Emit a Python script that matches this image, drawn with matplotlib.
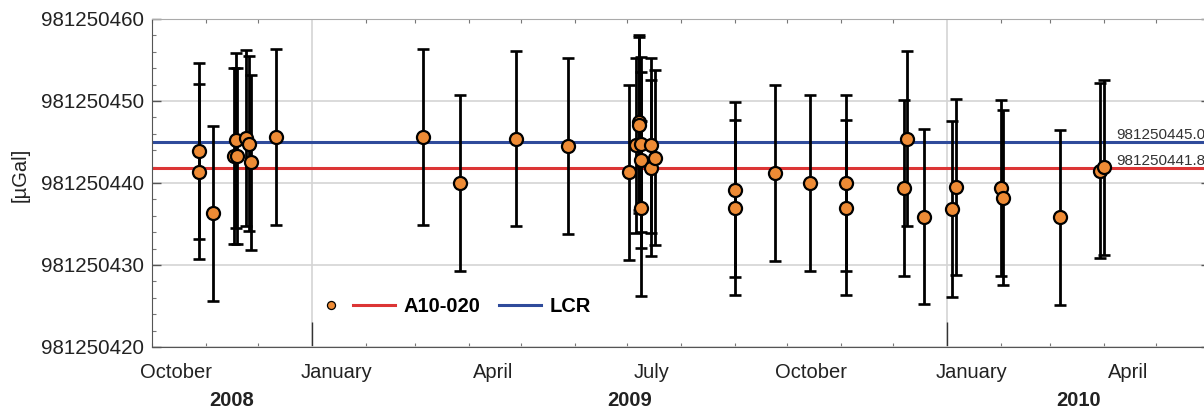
import datetime as dt

import matplotlib
matplotlib.use('Agg')
import matplotlib.pyplot as plt
import matplotlib.dates as mdates
from matplotlib.ticker import MultipleLocator, FormatStrFormatter, NullFormatter
from matplotlib.lines import Line2D

plt.rcParams['font.family'] = ['Liberation Sans', 'DejaVu Sans']

# Absolute gravity measurements (A10-020) with error bars
dates = ['2008-10-28', '2008-10-28', '2008-11-05', '2008-11-17', '2008-11-18',
         '2008-11-19', '2008-11-24', '2008-11-26', '2008-11-27', '2008-12-11',
         '2009-03-06', '2009-03-27', '2009-04-28', '2009-05-28', '2009-07-02',
         '2009-07-06', '2009-07-08', '2009-07-08', '2009-07-09', '2009-07-09',
         '2009-07-09', '2009-07-15', '2009-07-15', '2009-07-17', '2009-09-01',
         '2009-09-01', '2009-09-24', '2009-10-14', '2009-11-04', '2009-11-04',
         '2009-12-07', '2009-12-09', '2009-12-19', '2010-01-04', '2010-01-06',
         '2010-02-01', '2010-02-02', '2010-03-07', '2010-03-30', '2010-04-01']
gravity = [981250443.9, 981250441.4, 981250436.3, 981250443.3, 981250445.2,
           981250443.3, 981250445.5, 981250444.8, 981250442.5, 981250445.6,
           981250445.6, 981250440.0, 981250445.4, 981250444.5, 981250441.3,
           981250444.6, 981250447.4, 981250447.1, 981250444.7, 981250442.8,
           981250436.9, 981250444.6, 981250441.8, 981250443.1, 981250439.2,
           981250437.0, 981250441.2, 981250440.0, 981250440.0, 981250437.0,
           981250439.4, 981250445.4, 981250435.9, 981250436.8, 981250439.5,
           981250439.4, 981250438.2, 981250435.8, 981250441.5, 981250441.9]
errors = [10.7, 10.7, 10.7, 10.7, 10.7, 10.7, 10.7, 10.7, 10.7, 10.7,
          10.7, 10.7, 10.7, 10.7, 10.7, 10.7, 10.7, 10.7, 10.7, 10.7,
          10.7, 10.7, 10.7, 10.7, 10.7, 10.7, 10.7, 10.7, 10.7, 10.7,
          10.7, 10.7, 10.7, 10.7, 10.7, 10.7, 10.7, 10.7, 10.7, 10.7]

a10_value = 981250441.8
lcr_value = 981250445.0

month_labels = ['October', 'January', 'April', 'July', 'October', 'January', 'April']
month_label_dates = ['2008-10-15', '2009-01-15', '2009-04-15', '2009-07-15',
                     '2009-10-15', '2010-01-15', '2010-04-15']
year_labels = ['2008', '2009', '2010']

x_start = dt.datetime(2008, 10, 1)
x_end = dt.datetime(2010, 6, 1)

orange = '#EE8B35'
red = '#DC3535'
blue = '#2F4B9B'
text_col = '#222222'

x = [dt.datetime.strptime(d, '%Y-%m-%d') for d in dates]

fig = plt.figure(figsize=(12.04, 4.09), dpi=100)
ax = fig.add_axes([152 / 1204, 62 / 409, 1057.7 / 1204, 328 / 409])

red_line = ax.axhline(a10_value, color=red, lw=2.2, zorder=1.5)
blue_line = ax.axhline(lcr_value, color=blue, lw=2.2, zorder=1.5)

ax.errorbar(x, gravity, yerr=errors, fmt='none', ecolor='black',
            elinewidth=2.0, capsize=4.5, capthick=1.9, zorder=3)
ax.plot(x, gravity, 'o', ms=9.4, mfc=orange, mec='black', mew=1.6, zorder=4)

ax.set_xlim(x_start, x_end)
ax.set_ylim(981250420, 981250460)

# axes styling (matlab-ish)
ax.set_axisbelow(True)
ax.yaxis.set_major_locator(MultipleLocator(10))
ax.yaxis.set_minor_locator(MultipleLocator(2))
ax.yaxis.set_major_formatter(FormatStrFormatter('%d'))
ax.xaxis.set_major_locator(mdates.YearLocator())
ax.xaxis.set_minor_locator(mdates.MonthLocator())
ax.xaxis.set_major_formatter(NullFormatter())
ax.xaxis.set_minor_formatter(NullFormatter())

ax.grid(True, which='major', color='#d4d4d4', lw=1.2)

ax.tick_params(axis='y', which='major', direction='in', length=6.5, width=1,
               left=True, right=True, labelsize=14.8, labelcolor=text_col,
               color='#555555', pad=5.5)
ax.tick_params(axis='y', which='minor', direction='in', length=3, width=0.8,
               left=True, right=True, color='#777777')
ax.tick_params(axis='x', which='major', direction='in', length=18, width=1,
               bottom=True, top=False, color='#333333')
ax.tick_params(axis='x', which='minor', direction='in', length=3, width=0.8,
               bottom=True, top=True, color='#777777')

for side in ['left', 'bottom']:
    ax.spines[side].set_color('#555555')
ax.spines['top'].set_color('#aaaaaa')
ax.spines['right'].set_color('#aaaaaa')

fig.text(20 / 1204, 1 - 175 / 409, '[µGal]', rotation=90, ha='center',
         va='center', fontsize=14.5, color=text_col)

# month names centred on the month, years centred on the visible span
for lbl, d in zip(month_labels, month_label_dates):
    ax.annotate(lbl, xy=(dt.datetime.strptime(d, '%Y-%m-%d'), 0),
                xycoords=('data', 'axes fraction'), xytext=(0, -11.3),
                textcoords='offset points', ha='center', va='top',
                fontsize=14.5, color=text_col, annotation_clip=False)

for yl in year_labels:
    y0 = max(dt.datetime(int(yl), 1, 1), x_start)
    y1 = min(dt.datetime(int(yl) + 1, 1, 1), x_end)
    mid = y0 + (y1 - y0) / 2
    ax.annotate(yl, xy=(mid, 0), xycoords=('data', 'axes fraction'),
                xytext=(0, -31.6), textcoords='offset points', ha='center',
                va='top', fontsize=14.5, fontweight='bold', color=text_col,
                annotation_clip=False)

# value labels at right end of reference lines
for val in [lcr_value, a10_value]:
    ax.annotate(f'{val:.1f}', xy=(dt.datetime(2010, 4, 8), val),
                xytext=(0, 2.2), textcoords='offset points', ha='left',
                va='baseline', fontsize=11, color='#333333',
                annotation_clip=False)

# legend: marker entry, then the two reference lines
marker_handle = Line2D([], [], ls='none', marker='o', ms=5.8, mfc=orange,
                       mec='black', mew=0.9)
leg1 = ax.legend([marker_handle], [''], loc='center',
                 bbox_to_anchor=(0.1695, 0.123), frameon=False,
                 handlelength=0.6, handletextpad=0, borderpad=0,
                 borderaxespad=0, fontsize=14.5)
ax.add_artist(leg1)
ax.legend([red_line, blue_line], ['A10-020', 'LCR'], loc='center left',
          bbox_to_anchor=(0.190, 0.123), ncol=2, frameon=False,
          handlelength=2.07, handletextpad=0.42, columnspacing=0.96,
          borderpad=0, borderaxespad=0,
          prop={'weight': 'bold', 'size': 14.5})

plt.savefig('out.png', dpi=100)
plt.close()
